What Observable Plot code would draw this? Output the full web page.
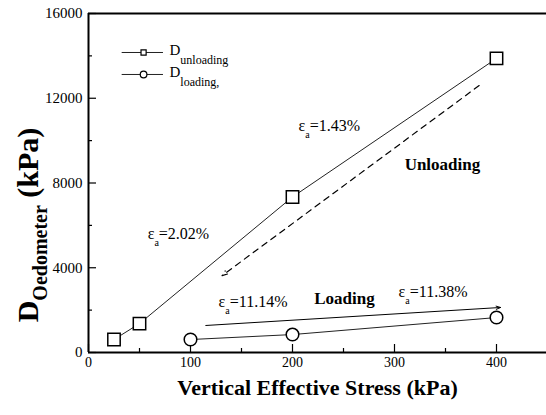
<!DOCTYPE html>
<html><head><meta charset="utf-8">
<script src="https://cdn.jsdelivr.net/npm/d3@7"></script>
<script src="https://cdn.jsdelivr.net/npm/@observablehq/plot@0.6"></script>
<style>body{margin:0;background:#fff} svg{display:block} svg text{font-family:'Liberation Serif','Times New Roman',Times,serif}</style>
</head><body><div id="chart"></div>
<script>
// ---- data ----
const unloadStress = [25, 50, 200, 400];
const unloadD = [612, 1365, 7340, 13880];
const loadStress = [100, 200, 400];
const loadD = [612, 847, 1650];
const xMajorTicks = [0, 100, 200, 300, 400];
const xMinorTicks = [50, 150, 250, 350];
const yMajorTicks = [0, 4000, 8000, 12000, 16000];
const yMinorTicks = [2000, 6000, 10000, 14000];
const strainLabels = ["ε_{a}=2.02%", "ε_{a}=1.43%", "ε_{a}=11.14%", "ε_{a}=11.38%"];
const strainX = [58, 206, 127.5, 304];
const strainY = [5334, 10431, 2171, 2596];
const phaseLabels = ["Unloading", "Loading"];
const phaseX = [347, 251];
const phaseY = [8590, 2266];
const legendLabels = ["D_{unloading}", "D_{loading,}"];
const legendSymbols = ["square", "circle"];
const legendY = [14160, 13122];
const xTitle = "Vertical Effective Stress (kPa)";
const yTitle = "D_{Oedometer} (kPa)";

const unloading = unloadStress.map((x, i) => ({x, y: unloadD[i]}));
const loading = loadStress.map((x, i) => ({x, y: loadD[i]}));
const strains = strainLabels.map((t, i) => ({t, x: strainX[i], y: strainY[i]}));
const phases = phaseLabels.map((t, i) => ({t, x: phaseX[i], y: phaseY[i]}));
const legend = legendLabels.map((t, i) => ({t, s: legendSymbols[i], y: legendY[i]}));
const arrows = [
  {x1: 383, y1: 12600, x2: 131, y2: 3630, dash: "6,5"},
  {x1: 115, y1: 1275, x2: 404, y2: 2125, dash: null}
];

const serif = "'Liberation Serif', 'Times New Roman', Times, serif";
const ink = "#000";
const noText = () => "";

const plot = Plot.plot({
  width: 546, height: 415,
  marginLeft: 88, marginTop: 13, marginBottom: 63, marginRight: 0,
  x: {domain: [0, 450], range: [88, 547]},
  y: {domain: [0, 16000], range: [352, 13]},
  style: {fontFamily: serif, fontSize: "15px", color: ink, background: "#fff", overflow: "visible"},
  marks: [
    // frame lines
    Plot.ruleY([16000], {stroke: ink, strokeWidth: 2}),
    Plot.ruleX([0], {stroke: ink, strokeWidth: 2}),
    Plot.ruleY([0], {stroke: ink, strokeWidth: 2}),
    // axes: labels
    Plot.axisX(xMajorTicks, {tickSize: 0, tickPadding: 5, label: null, fontSize: 14, fontFamily: serif, tickFormat: d => String(d)}),
    Plot.axisY(yMajorTicks, {tickSize: 0, tickPadding: 6, label: null, fontSize: 15, fontFamily: serif, tickFormat: d => String(d)}),
    // axes: inward ticks
    Plot.axisX(xMajorTicks, {tickSize: -8, tickFormat: noText, label: null, strokeWidth: 1.2}),
    Plot.axisX(xMinorTicks, {tickSize: -4, tickFormat: noText, label: null, strokeWidth: 1.2}),
    Plot.axisY(yMajorTicks, {tickSize: -8, tickFormat: noText, label: null, strokeWidth: 1.2}),
    Plot.axisY(yMinorTicks, {tickSize: -4, tickFormat: noText, label: null, strokeWidth: 1.2}),
    // axis titles
    Plot.text([xTitle], {frameAnchor: "bottom", text: d => d, dy: 42, lineAnchor: "bottom", textAnchor: "middle", fontWeight: "bold", fontSize: 22, fontFamily: serif}),
    Plot.text([yTitle], {frameAnchor: "left", text: d => d, dx: -51, dy: 42, rotate: -90, lineAnchor: "bottom", textAnchor: "middle", fontWeight: "bold", fontSize: 30, fontFamily: serif}),
    // series
    Plot.line(unloading, {x: "x", y: "y", stroke: "#222", strokeWidth: 1}),
    Plot.line(loading, {x: "x", y: "y", stroke: "#222", strokeWidth: 1}),
    Plot.dot(unloading, {x: "x", y: "y", symbol: "square", r: 7, fill: "#fff", stroke: ink, strokeWidth: 1.5}),
    Plot.dot(loading, {x: "x", y: "y", symbol: "circle", r: 6.3, fill: "#fff", stroke: ink, strokeWidth: 1.5}),
    // arrows
    Plot.arrow(arrows.filter(d => d.dash), {x1: "x1", y1: "y1", x2: "x2", y2: "y2", stroke: ink, strokeWidth: 1.2, strokeDasharray: "6,5", headLength: 7, headAngle: 40}),
    Plot.arrow(arrows.filter(d => !d.dash), {x1: "x1", y1: "y1", x2: "x2", y2: "y2", stroke: ink, strokeWidth: 1, headLength: 7, headAngle: 40}),
    // annotations
    Plot.text(strains, {x: "x", y: "y", text: "t", textAnchor: "start", lineAnchor: "bottom", fontSize: 16, fontFamily: serif}),
    Plot.text(phases, {x: "x", y: "y", text: "t", lineAnchor: "bottom", textAnchor: "middle", fontWeight: "bold", fontSize: 17, fontFamily: serif}),
    // legend
    Plot.ruleY(legend, {y: "y", x1: 33, x2: 73.5, stroke: "#222", strokeWidth: 1}),
    Plot.dot(legend, {x: 54, y: "y", symbol: "s", r: d => d.s === "square" ? 4 : 5.3, fill: "#fff", stroke: ink, strokeWidth: 1.2}),
    Plot.text(legend, {x: 79.4, y: "y", text: "t", textAnchor: "start", lineAnchor: "bottom", dy: 3, fontSize: 15, fontFamily: serif})
  ]
});

// subscripts as real tspans
function subscriptStyle(t) {
  if (t.startsWith("ε")) return {size: 10, shift: 7};
  if (t.startsWith("D_{Oed")) return {size: 20, shift: 9};
  return {size: 12, shift: 9};
}
d3.select(plot).selectAll("text").each(function () {
  const t = this.textContent;
  if (!t.includes("_{")) return;
  const {size, shift} = subscriptStyle(t);
  const parts = t.split(/(_\{[^}]*\})/).filter(s => s);
  const sel = d3.select(this);
  sel.text(null);
  let down = false;
  for (const p of parts) {
    if (p.startsWith("_{")) {
      sel.append("tspan").attr("dy", shift).attr("font-size", size).text(p.slice(2, -1));
      down = true;
    } else {
      sel.append("tspan").attr("dy", down ? -shift : null).text(p);
      down = false;
    }
  }
});
d3.select(plot).selectAll("[aria-label='dot'] path, [aria-label='dot'] circle").attr("fill", "#fff");
document.getElementById("chart").append(plot);
</script>
</body></html>
